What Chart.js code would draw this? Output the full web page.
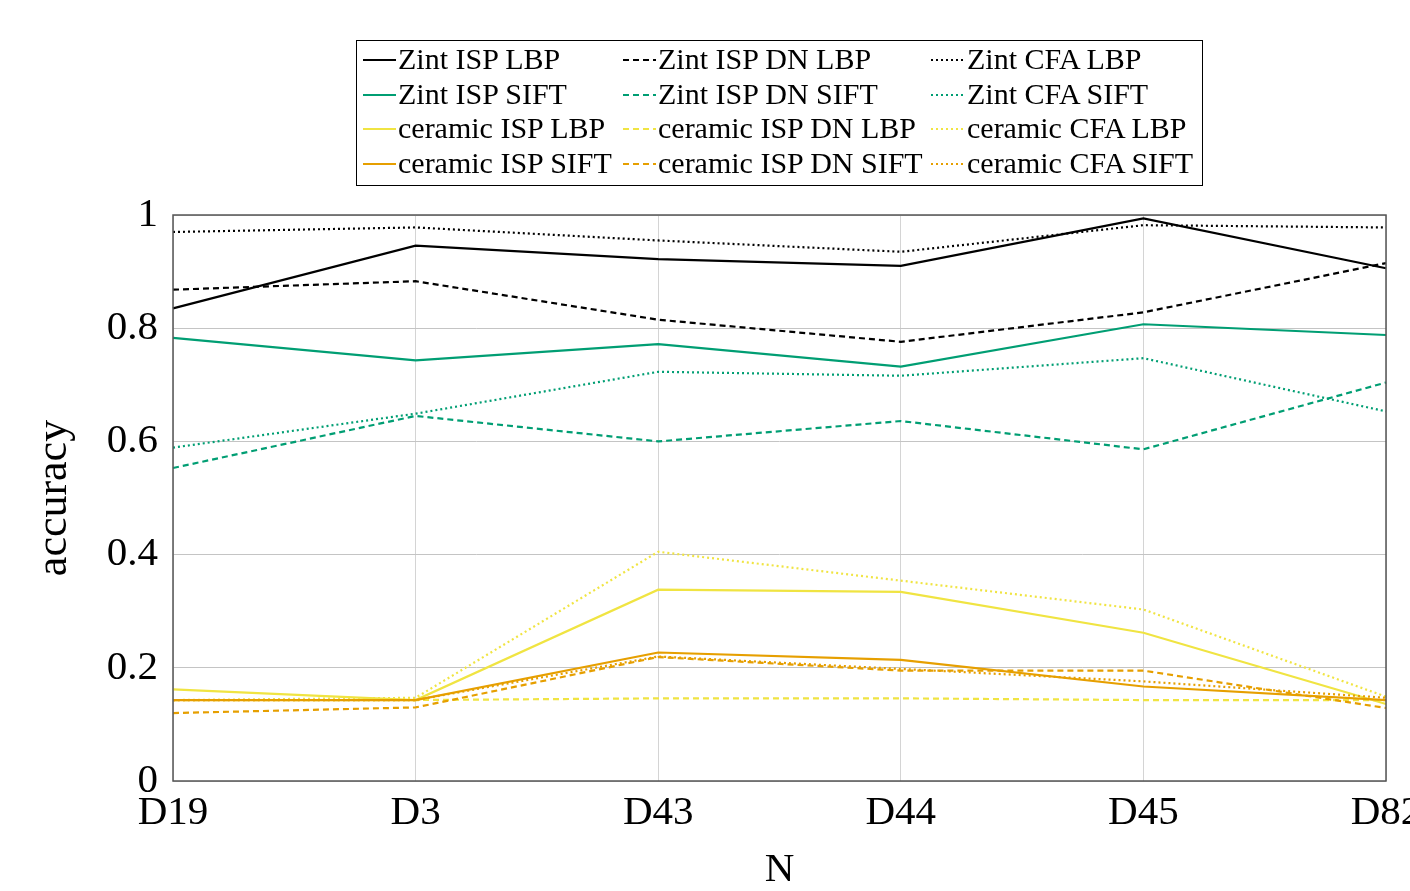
<!DOCTYPE html>
<html>
<head>
<meta charset="utf-8">
<script src="https://cdn.jsdelivr.net/npm/chart.js@4"></script>
<style>
  html, body { margin: 0; padding: 0; background: #fff; }
  body { width: 1410px; height: 891px; overflow: hidden; position: relative; }
  #wrap { position: absolute; left: 0; top: 0; width: 1430px; height: 891px; }
  #legend {
    position: absolute; left: 356px; top: 40px; width: 845px; height: 144px;
    border: 1px solid #000; box-sizing: content-box;
    font-family: 'Liberation Serif', serif; font-size: 30px; color: #000;
  }
  .item { position: absolute; height: 34px; line-height: 34px; white-space: nowrap; }
  .swatch { position: absolute; top: 12px; width: 33px; height: 10px; }
  .label { position: absolute; top: -1px; }
</style>
</head>
<body>
<div id="wrap"><canvas id="chart" width="1430" height="891"></canvas></div>
<div id="legend"></div>
<script>
// datasets N
const categories = ['D19', 'D3', 'D43', 'D44', 'D45', 'D82'];

// Zint
const zintIspLbp     = [0.835, 0.946, 0.922, 0.910, 0.994, 0.906];
const zintIspDnLbp   = [0.868, 0.883, 0.815, 0.776, 0.828, 0.915];
const zintCfaLbp     = [0.970, 0.978, 0.955, 0.935, 0.982, 0.978];
const zintIspSift    = [0.783, 0.743, 0.772, 0.732, 0.807, 0.788];
const zintIspDnSift  = [0.553, 0.645, 0.600, 0.636, 0.586, 0.704];
const zintCfaSift    = [0.589, 0.649, 0.723, 0.716, 0.747, 0.653];

// ceramic
const ceramicIspLbp    = [0.162, 0.143, 0.338, 0.334, 0.262, 0.136];
const ceramicIspDnLbp  = [0.143, 0.143, 0.146, 0.146, 0.143, 0.143];
const ceramicCfaLbp    = [0.143, 0.147, 0.405, 0.354, 0.303, 0.149];
const ceramicIspSift   = [0.143, 0.143, 0.227, 0.214, 0.167, 0.143];
const ceramicIspDnSift = [0.120, 0.130, 0.219, 0.195, 0.195, 0.129];
const ceramicCfaSift   = [0.143, 0.143, 0.220, 0.198, 0.176, 0.147];

const yTicks = [0, 0.2, 0.4, 0.6, 0.8, 1];

const BLACK = '#000000', GREEN = '#009e73', YELLOW = '#f0e442', ORANGE = '#e69f00';
const SOLID = [], DASHED = [6, 4], DOTTED = [2, 3];

// legend order (3 columns, row by row)
const series = [
  ['Zint ISP LBP', zintIspLbp, BLACK, SOLID],
  ['Zint ISP DN LBP', zintIspDnLbp, BLACK, DASHED],
  ['Zint CFA LBP', zintCfaLbp, BLACK, DOTTED],
  ['Zint ISP SIFT', zintIspSift, GREEN, SOLID],
  ['Zint ISP DN SIFT', zintIspDnSift, GREEN, DASHED],
  ['Zint CFA SIFT', zintCfaSift, GREEN, DOTTED],
  ['ceramic ISP LBP', ceramicIspLbp, YELLOW, SOLID],
  ['ceramic ISP DN LBP', ceramicIspDnLbp, YELLOW, DASHED],
  ['ceramic CFA LBP', ceramicCfaLbp, YELLOW, DOTTED],
  ['ceramic ISP SIFT', ceramicIspSift, ORANGE, SOLID],
  ['ceramic ISP DN SIFT', ceramicIspDnSift, ORANGE, DASHED],
  ['ceramic CFA SIFT', ceramicCfaSift, ORANGE, DOTTED]
];

const datasets = series.map((s, i) => ({
  label: s[0],
  data: s[1],
  borderColor: s[2],
  backgroundColor: s[2],
  borderDash: s[3],
  borderWidth: 2.2,
  pointRadius: 0,
  tension: 0,
  fill: false,
  order: series.length - i  // later series drawn on top
}));

// frame round the plot area
const frame = {
  id: 'frame',
  afterDraw(chart) {
    const a = chart.chartArea, ctx = chart.ctx;
    ctx.save();
    ctx.strokeStyle = '#555';
    ctx.lineWidth = 1.5;
    ctx.strokeRect(a.left, a.top, a.right - a.left, a.bottom - a.top);
    ctx.restore();
  }
};

const serif = 'Liberation Serif';

new Chart(document.getElementById('chart').getContext('2d'), {
  type: 'line',
  data: { labels: categories, datasets: datasets },
  options: {
    responsive: false,
    animation: false,
    layout: { padding: { top: 215, left: 0, right: 44, bottom: 0 } },
    plugins: { legend: { display: false }, tooltip: { enabled: false } },
    scales: {
      x: {
        offset: false,
        grid: { color: '#d4d4d4', drawTicks: false },
        border: { display: false },
        ticks: { color: '#000', font: { family: serif, size: 41 }, padding: 8, maxRotation: 0, autoSkip: false },
        title: { display: true, text: 'N', color: '#000', font: { family: serif, size: 41, lineHeight: 1.0 }, padding: { top: 0, bottom: 0 } },
        afterFit(scale) { scale.height = 110; }
      },
      y: {
        min: 0, max: 1,
        grid: { color: '#c4c4c4', drawTicks: false },
        border: { display: false },
        afterBuildTicks(scale) { scale.ticks = yTicks.map(v => ({ value: v })); },
        ticks: { color: '#000', font: { family: serif, size: 41 }, padding: 15, callback: v => String(v) },
        title: { display: true, text: 'accuracy', color: '#000', font: { family: serif, size: 44 }, padding: { top: 28, bottom: 0 } },
        afterFit(scale) { scale.width = 173; }
      }
    }
  },
  plugins: [frame]
});

// legend box built from the datasets
const colX = [[6, 41], [266, 301], [574, 610]];
const legend = document.getElementById('legend');
series.forEach((s, i) => {
  const col = i % 3, row = Math.floor(i / 3);
  const item = document.createElement('div');
  item.className = 'item';
  item.style.left = '0px';
  item.style.top = (2 + row * 34.5) + 'px';
  const sw = document.createElement('canvas');
  sw.className = 'swatch';
  sw.width = 33; sw.height = 10;
  sw.style.left = colX[col][0] + 'px';
  const c = sw.getContext('2d');
  c.strokeStyle = s[2];
  c.lineWidth = 2;
  c.setLineDash(s[3]);
  c.beginPath(); c.moveTo(0, 5); c.lineTo(33, 5); c.stroke();
  const lb = document.createElement('span');
  lb.className = 'label';
  lb.style.left = colX[col][1] + 'px';
  lb.textContent = s[0];
  item.appendChild(sw);
  item.appendChild(lb);
  legend.appendChild(item);
});
</script>
</body>
</html>
